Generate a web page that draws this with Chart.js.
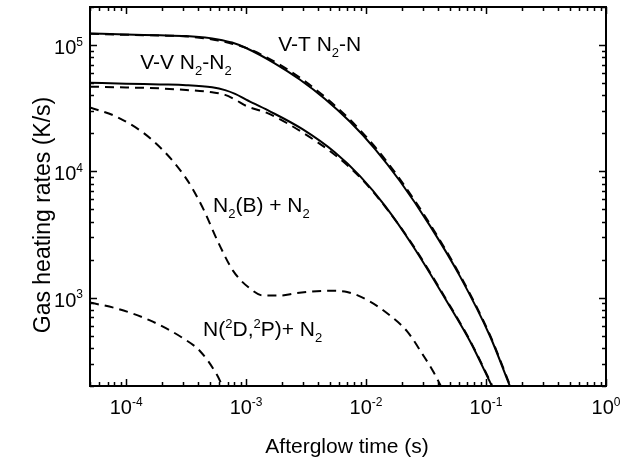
<!DOCTYPE html>
<html>
<head>
<meta charset="utf-8">
<script src="https://cdn.jsdelivr.net/npm/chart.js@4/dist/chart.umd.min.js"></script>
<style>
  body { margin: 0; background: #fff; }
  canvas { display: block; }
</style>
</head>
<body>
<canvas id="heatChart" width="620" height="460"></canvas>
<script>
// afterglow time (s) and heating rates (K/s)
const vtTime = [5e-5, 1e-4, 1.92e-4, 3.16e-4, 4.55e-4, 5.84e-4, 7.64e-4, 1e-3, 1.744e-3, 2.818e-3, 4.55e-3, 7.356e-3, 1.189e-2, 1.92e-2, 3.415e-2, 6.07e-2, 0.108, 0.158];
const vtSolid = [1.235e5, 1.209e5, 1.194e5, 1.177e5, 1.145e5, 1.108e5, 1.046e5, 9.47e4, 7.135e4, 5.315e4, 3.744e4, 2.467e4, 1.502e4, 8.35e3, 3.704e3, 1.475e3, 495, 200];
const vtDashed = [1.23e5, 1.205e5, 1.19e5, 1.17e5, 1.13e5, 1.085e5, 1.025e5, 9.5e4, 7.35e4, 5.5e4, 3.88e4, 2.56e4, 1.56e4, 8.65e3, 3.82e3, 1.51e3, 505, 204];

const vvTime = [5e-5, 1e-4, 1.92e-4, 3.16e-4, 5.21e-4, 6.68e-4, 8.1e-4, 1e-3, 1.526e-3, 2.93e-3, 5.515e-3, 8.91e-3, 1.44e-2, 2.464e-2, 4.73e-2, 7.356e-2, 0.112];
const vvSolid = [5.036e4, 4.945e4, 4.874e4, 4.812e4, 4.625e4, 4.397e4, 4.105e4, 3.704e4, 3.037e4, 2.166e4, 1.41e4, 9.17e3, 5.336e3, 2.557e3, 930, 452, 200];
const vvDashed = [4.684e4, 4.617e4, 4.535e4, 4.41e4, 4.225e4, 4.03e4, 3.7e4, 3.3e4, 2.876e4, 2.041e4, 1.347e4, 8.97e3, 5.27e3, 2.6e3, 945, 458, 204];

const n2bTime = [5e-5, 8.57e-5, 1.65e-4, 3.1e-4, 4.3e-4, 5.85e-4, 7.8e-4, 1.08e-3, 1.39e-3, 1.92e-3, 2.66e-3, 5e-3, 6.95e-3, 1.08e-2, 1.58e-2, 2.2e-2, 2.99e-2, 3.61e-2, 4.2e-2];
const n2bRate = [3.21e4, 2.67e4, 1.77e4, 9.05e3, 5.27e3, 2.75e3, 1.63e3, 1.18e3, 1.04e3, 1.04e3, 1.09e3, 1.135e3, 1.11e3, 931, 723, 541, 351, 263, 200];

const n2dTime = [5e-5, 8.4e-5, 1.58e-4, 2.99e-4, 4.14e-4, 5.73e-4, 6.35e-4];
const n2dRate = [915, 820, 661, 477, 377, 244, 200];

const xDecades = [1e-4, 1e-3, 1e-2, 1e-1, 1];
const xExponents = ['-4', '-3', '-2', '-1', '0'];
const yDecades = [1e3, 1e4, 1e5];
const yExponents = ['3', '4', '5'];

const FONT = 'Arial, "Liberation Sans", sans-serif';

function pts(xs, ys) {
  return xs.map((x, i) => ({ x: x, y: ys[i] }));
}

function line(data, dashed) {
  return {
    data: data,
    borderColor: '#000',
    borderWidth: 2,
    borderDash: dashed ? [9, 6] : [],
    pointRadius: 0,
    fill: false,
    cubicInterpolationMode: 'monotone'
  };
}

// curve labels: text pieces, with sub / sup pieces, anchored at a data point (left baseline)
const curveLabels = [
  { x: 1.85e-3, y: 9.0e4, parts: [['V-T N'], ['2', 'sub'], ['-N']] },
  { x: 1.31e-4, y: 6.5e4, parts: [['V-V N'], ['2', 'sub'], ['-N'], ['2', 'sub']] },
  { x: 5.3e-4, y: 4.8e3, parts: [['N'], ['2', 'sub'], ['(B) + N'], ['2', 'sub']] },
  { x: 4.38e-4, y: 494, parts: [['N('], ['2', 'sup'], ['D,'], ['2', 'sup'], ['P)+ N'], ['2', 'sub']] }
];

function setFont(ctx, p, size) {
  const small = p[1] === 'sub' || p[1] === 'sup';
  ctx.font = (small ? Math.round(size * 0.62) : size) + 'px ' + FONT;
}

function drawParts(ctx, parts, x, y, size) {
  let cx = x;
  parts.forEach(p => {
    setFont(ctx, p, size);
    let dy = 0;
    if (p[1] === 'sub') dy = size * 0.28;
    if (p[1] === 'sup') dy = -size * 0.42;
    ctx.fillText(p[0], cx, y + dy);
    cx += ctx.measureText(p[0]).width;
  });
}

function partsWidth(ctx, parts, size) {
  let w = 0;
  parts.forEach(p => {
    setFont(ctx, p, size);
    w += ctx.measureText(p[0]).width;
  });
  return w;
}

const framePlugin = {
  id: 'frame',
  afterDraw(chart) {
    const ctx = chart.ctx;
    const a = chart.chartArea;
    const xs = chart.scales.x;
    const ys = chart.scales.y;
    ctx.save();
    ctx.strokeStyle = '#000';
    ctx.fillStyle = '#000';

    // minor and major ticks, inward on all four sides
    ctx.lineWidth = 1.5;
    ctx.beginPath();
    for (let e = -5; e <= 0; e++) {
      for (let m = 1; m <= 9; m++) {
        const v = m * Math.pow(10, e);
        if (v < xs.min * 0.999 || v > xs.max * 1.001) continue;
        const px = Math.round(xs.getPixelForValue(v)) + 0.5;
        const len = m === 1 ? 7 : 4;
        ctx.moveTo(px, a.bottom); ctx.lineTo(px, a.bottom - len);
        ctx.moveTo(px, a.top); ctx.lineTo(px, a.top + len);
      }
    }
    for (let e = 2; e <= 5; e++) {
      for (let m = 1; m <= 9; m++) {
        const v = m * Math.pow(10, e);
        if (v < ys.min * 0.999 || v > ys.max * 1.001) continue;
        const py = Math.round(ys.getPixelForValue(v)) + 0.5;
        const len = m === 1 ? 7 : 4;
        ctx.moveTo(a.left, py); ctx.lineTo(a.left + len, py);
        ctx.moveTo(a.right, py); ctx.lineTo(a.right - len, py);
      }
    }
    ctx.stroke();

    ctx.lineWidth = 2;
    ctx.strokeRect(a.left, a.top, a.right - a.left, a.bottom - a.top);

    // tick labels: 10 with raised exponent
    ctx.textBaseline = 'alphabetic';
    ctx.textAlign = 'left';
    const ts = 20;
    xDecades.forEach((v, i) => {
      const parts = [['10'], [xExponents[i], 'sup']];
      const w = partsWidth(ctx, parts, ts);
      const px = xs.getPixelForValue(v);
      drawParts(ctx, parts, px - w / 2, a.bottom + 28, ts);
    });
    yDecades.forEach((v, i) => {
      const parts = [['10'], [yExponents[i], 'sup']];
      const w = partsWidth(ctx, parts, ts);
      const py = ys.getPixelForValue(v);
      drawParts(ctx, parts, a.left - 7 - w, py + 9, ts);
    });

    // axis titles
    ctx.textAlign = 'center';
    ctx.font = '21px ' + FONT;
    ctx.fillText('Afterglow time (s)', (a.left + a.right) / 2 - 1, 453);
    ctx.save();
    ctx.translate(50, 215);
    ctx.rotate(-Math.PI / 2);
    ctx.font = '23px ' + FONT;
    ctx.fillText('Gas heating rates (K/s)', 0, 0);
    ctx.restore();

    // curve labels
    ctx.textAlign = 'left';
    curveLabels.forEach(l => {
      drawParts(ctx, l.parts, xs.getPixelForValue(l.x), ys.getPixelForValue(l.y), 21);
    });
    ctx.restore();
  }
};

new Chart(document.getElementById('heatChart'), {
  type: 'line',
  data: {
    datasets: [
      line(pts(vtTime, vtSolid), false),
      line(pts(vtTime, vtDashed), true),
      line(pts(vvTime, vvSolid), false),
      line(pts(vvTime, vvDashed), true),
      line(pts(n2bTime, n2bRate), true),
      line(pts(n2dTime, n2dRate), true)
    ]
  },
  options: {
    responsive: false,
    animation: false,
    layout: { padding: { left: 90, right: 14, top: 7, bottom: 74 } },
    plugins: { legend: { display: false }, tooltip: { enabled: false } },
    scales: {
      x: {
        type: 'logarithmic',
        min: 5e-5,
        max: 1,
        grid: { display: false, drawTicks: false },
        border: { display: false },
        ticks: { display: false }
      },
      y: {
        type: 'logarithmic',
        min: 200,
        max: 2e5,
        grid: { display: false, drawTicks: false },
        border: { display: false },
        ticks: { display: false }
      }
    }
  },
  plugins: [framePlugin]
});
</script>
</body>
</html>
